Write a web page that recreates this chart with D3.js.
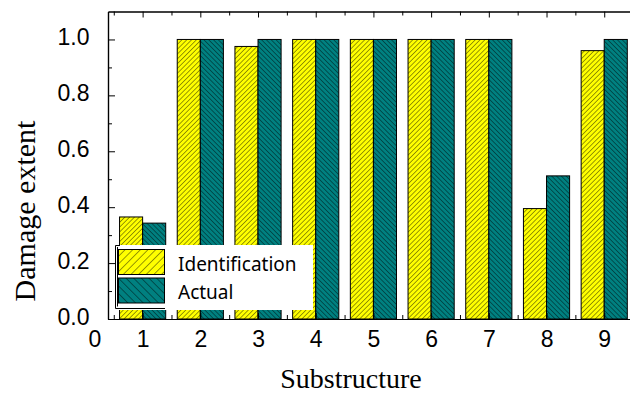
<!DOCTYPE html>
<html>
<head>
<meta charset="utf-8">
<script src="https://cdn.jsdelivr.net/npm/d3@7"></script>
<style>
  body { margin: 0; background: #fff; overflow: hidden; }
  svg { display: block; }
</style>
</head>
<body>
<div id="chart"></div>
<script>
// data
const categories = [1, 2, 3, 4, 5, 6, 7, 8, 9];
const identification = [0.365, 1.0, 0.975, 1.0, 1.0, 1.0, 1.0, 0.395, 0.96];
const actual = [0.343, 1.0, 1.0, 1.0, 1.0, 1.0, 1.0, 0.512, 1.0];
const yTicks = [0.0, 0.2, 0.4, 0.6, 0.8, 1.0];
const seriesNames = ["Identification", "Actual"];

const width = 630;
const height = 394;
const margin = { top: 11.5, left: 108, bottom: 319 };
const barW = 0.4;

const svg = d3.select("#chart")
  .append("svg")
  .attr("width", width)
  .attr("height", height);

// hatch patterns
const defs = svg.append("defs");
const makeHatch = (id, fill, angle, gap) => {
  const p = defs.append("pattern")
    .attr("id", id)
    .attr("patternUnits", "userSpaceOnUse")
    .attr("width", gap)
    .attr("height", gap)
    .attr("patternTransform", `rotate(${angle})`);
  p.append("rect").attr("width", gap).attr("height", gap).attr("fill", fill);
  p.append("line")
    .attr("x1", 0).attr("y1", 0).attr("x2", 0).attr("y2", gap)
    .attr("stroke", "#000").attr("stroke-width", 0.8);
};
makeHatch("hatchY", "#ffff00", 45, 3.4);
makeHatch("hatchT", "#008080", -45, 3.4);
makeHatch("hatchYL", "#ffff00", 45, 5.4);
makeHatch("hatchTL", "#008080", -45, 5.4);

const x = d3.scaleLinear().domain([0.4, 9.6]).range([margin.left, margin.left + 9.2 * 57.7]);
const y = d3.scaleLinear().domain([0, 1.1]).range([margin.bottom, margin.top]);

const series = [
  { values: identification, fill: "url(#hatchY)", offset: -barW },
  { values: actual, fill: "url(#hatchT)", offset: 0 }
];

// bars
series.forEach(s => {
  svg.append("g")
    .selectAll("rect")
    .data(categories)
    .join("rect")
    .attr("x", (d, i) => x(d + s.offset))
    .attr("y", (d, i) => y(s.values[i]))
    .attr("width", x(barW) - x(0))
    .attr("height", (d, i) => y(0) - y(s.values[i]))
    .attr("fill", s.fill)
    .attr("stroke", "#000")
    .attr("stroke-width", 1);
});

const minorX = d3.range(0.5, 10, 1);
const minorY = [0.1, 0.3, 0.5, 0.7, 0.9];
const tickFont = "'Liberation Sans', Arial, sans-serif";

// left axis
const leftG = svg.append("g").attr("transform", `translate(${margin.left},0)`);
leftG.call(d3.axisLeft(y).tickValues(yTicks).tickFormat(d3.format(".1f"))
  .tickSize(-7).tickSizeOuter(0).tickPadding(18.5));
leftG.append("g").call(d3.axisLeft(y).tickValues(minorY).tickFormat("").tickSize(-4).tickSizeOuter(0));
leftG.selectAll("text").attr("font-size", 23).attr("font-family", tickFont).attr("fill", "#000").attr("dy", "0.22em");

// bottom axis
const bottomG = svg.append("g").attr("transform", `translate(0,${margin.bottom})`);
bottomG.call(d3.axisBottom(x).tickValues(categories).tickFormat(d3.format("d"))
  .tickSize(-6).tickSizeOuter(0).tickPadding(11.5));
bottomG.append("g").call(d3.axisBottom(x).tickValues(minorX).tickFormat("").tickSize(-4).tickSizeOuter(0));
bottomG.selectAll("text").attr("font-size", 23).attr("font-family", tickFont).attr("fill", "#000");
bottomG.append("text")
  .attr("x", x(0.4) - 13)
  .attr("y", 11.5)
  .attr("dy", "0.71em")
  .attr("text-anchor", "middle")
  .attr("font-size", 23).attr("font-family", tickFont).attr("fill", "#000")
  .text("0");

// top axis
const topG = svg.append("g").attr("transform", `translate(0,${margin.top})`);
topG.call(d3.axisTop(x).tickValues(categories).tickFormat("").tickSize(-6).tickSizeOuter(0));
topG.append("g").call(d3.axisTop(x).tickValues(minorX).tickFormat("").tickSize(-4).tickSizeOuter(0));

svg.selectAll(".domain").attr("stroke-width", 1.2);

// axis titles
const serif = "'Liberation Serif', 'Times New Roman', serif";
svg.append("text")
  .attr("transform", "translate(35,211) rotate(-90)")
  .attr("text-anchor", "middle")
  .attr("font-family", serif)
  .attr("font-size", 30)
  .text("Damage extent");
svg.append("text")
  .attr("x", 351)
  .attr("y", 388)
  .attr("text-anchor", "middle")
  .attr("font-family", serif)
  .attr("font-size", 28)
  .text("Substructure");

// legend
const legend = svg.append("g");
legend.append("rect")
  .attr("x", 115).attr("y", 245).attr("width", 198).attr("height", 65)
  .attr("fill", "#fff");
legend.append("path")
  .attr("d", "M120,245.5 H115.5 V308.5 H165 M117.5,247 V306.5")
  .attr("fill", "none").attr("stroke", "#000").attr("stroke-width", 1);
const legendFills = ["url(#hatchYL)", "url(#hatchTL)"];
seriesNames.forEach((name, i) => {
  legend.append("rect")
    .attr("x", 118.5).attr("y", 249.5 + i * 28.5)
    .attr("width", 46).attr("height", 25)
    .attr("fill", legendFills[i])
    .attr("stroke", "#000").attr("stroke-width", 1);
  legend.append("text")
    .attr("x", 178).attr("y", 270.5 + i * 28)
    .attr("font-family", "'Noto Sans', sans-serif")
    .attr("font-size", 19)
    .text(name);
});
</script>
</body>
</html>
